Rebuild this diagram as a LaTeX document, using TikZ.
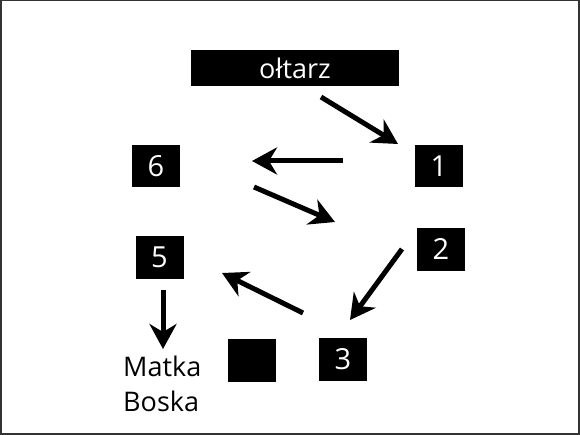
\documentclass[tikz,border=0pt]{standalone}
\usepackage{fontspec}
\setmainfont{Open Sans}
\usetikzlibrary{arrows.meta}
\begin{document}
\begin{tikzpicture}[x=1pt,y=-1pt,
  blackbox/.style={fill=black,draw=none,text=white,inner sep=0pt,minimum width=48pt,minimum height=42pt,font=\fontsize{29}{29}\selectfont},
  flowarrow/.style={line width=5pt,-{Stealth[length=25pt,width=27pt,inset=8pt]}},
  plain/.style={font=\fontsize{27}{35}\selectfont,align=left,inner sep=0pt}]
\useasboundingbox (0,0) rectangle (580,435);
\draw[draw=black!80,line width=1.5pt] (0.75,0.75) rectangle (579,434);
\node[blackbox,minimum width=208pt,minimum height=36pt,font=\fontsize{27}{27}\selectfont] (altar) at (295,68.5) {ołtarz};
\node[blackbox] (n1) at (439,166.5) {1};
\node[blackbox] (n6) at (156,166.5) {6};
\node[blackbox,minimum height=43pt] (n2) at (441,249.5) {2};
\node[blackbox,minimum height=43pt] (n5) at (159.5,257.5) {5};
\node[blackbox,minimum height=43pt] (blank) at (252,360.5) {};
\node[blackbox,minimum height=43pt] (n3) at (343,359.5) {3};
\node[plain,anchor=north west] (mb) at (123,356) {Matka\\Boska};
\coordinate (a1s) at (321,97);  \coordinate (a1e) at (398,144);
\coordinate (a2s) at (343,161); \coordinate (a2e) at (252,161);
\coordinate (a3s) at (254,187); \coordinate (a3e) at (335,222);
\coordinate (a4s) at (402,249); \coordinate (a4e) at (350,320);
\coordinate (a5s) at (303,313); \coordinate (a5e) at (222,273);
\coordinate (a6s) at (163,290); \coordinate (a6e) at (163,349);
\draw[flowarrow] (a1s) -- (a1e);
\draw[flowarrow] (a2s) -- (a2e);
\draw[flowarrow] (a3s) -- (a3e);
\draw[flowarrow] (a4s) -- (a4e);
\draw[flowarrow] (a5s) -- (a5e);
\draw[flowarrow] (a6s) -- (a6e);
\end{tikzpicture}
\end{document}
